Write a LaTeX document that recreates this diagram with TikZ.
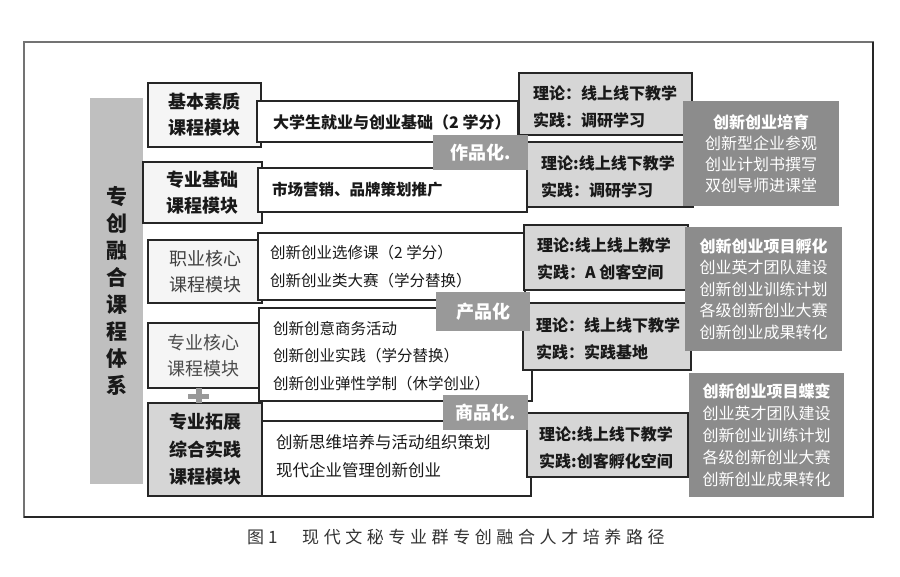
\documentclass[tikz,border=0pt]{standalone}
\usepackage{fontspec}
\setmainfont{Noto Sans CJK SC}
\newfontfamily\capfont[LetterSpace=27]{Noto Sans CJK SC}
\begin{document}
\begin{tikzpicture}[x=1pt,y=-1pt,
  wh/.style 2 args={minimum width=#1pt, minimum height=#2pt},
  box/.style={draw=black!85, line width=1.5pt, inner sep=0pt, rectangle},
  modbox/.style={box, fill=black!4, align=center, font=\fontsize{18}{26}\selectfont\bfseries, text=black!90},
  midbox/.style={box, fill=white},
  thbox/.style={box, fill=black!16},
  darkbox/.style={fill=black!45, inner sep=0pt, align=center, text=white, font=\fontsize{16}{21}\selectfont},
  tagbox/.style={fill=black!40, inner sep=0pt, text=white, font=\fontsize{18}{18}\selectfont\bfseries},
  midtxt/.style={anchor=west, inner sep=0pt, align=left, text=black!90, font=\fontsize{15.5}{27.5}\selectfont},
  thtxt/.style={anchor=west, inner sep=0pt, align=left, text=black!90, font=\fontsize{16}{27}\selectfont\bfseries},
  bartxt/.style={fill=black!25, inner sep=0pt, align=center, text=black!90, font=\fontsize{21}{27}\selectfont\bfseries},
  captxt/.style={anchor=west, inner sep=0pt, text=black!80, font=\capfont\fontsize{17}{17}\selectfont}
]
\useasboundingbox (0,0) rectangle (900,577);
\fill[white] (0,0) rectangle (900,577);
% outer frame
\draw[black!55, line width=1.2pt] (24,42) rectangle (873,517);
\draw[black!85, line width=1.8pt] (24,517) -- (873,517) -- (873,42);

% left bar
\node[bartxt, wh={53}{386}] (bar) at (116.5,291) {专\\创\\融\\合\\课\\程\\体\\系};

% modules
\node[modbox, wh={113}{64}] (m1) at (204.5,115) {基本素质\\课程模块};
\node[modbox, wh={119}{61}] (m2) at (202.5,192.5) {专业基础\\课程模块};
\node[modbox, wh={114}{63}, font=\fontsize{18}{26}\selectfont, text=black!75] (m3) at (205,271.5) {职业核心\\课程模块};
\node[modbox, wh={111}{65}, font=\fontsize{18}{26}\selectfont, text=black!70] (m4) at (203.5,355.5) {专业核心\\课程模块};
\node[modbox, wh={114}{93}, fill=black!16, font=\fontsize{18}{27.5}\selectfont\bfseries] (m5) at (205,449.5) {专业拓展\\综合实践\\课程模块};
% plus between m4 and m5
\fill[black!40] (188,393.5) rectangle (209,398.5);
\fill[black!40] (195.5,388) rectangle (202,403);

% middle boxes
\node[midbox, wh={261}{41}] (c1) at (387.5,121.5) {};
\node[midbox, wh={269}{44}] (c2) at (392.5,190) {};
\node[midbox, wh={267}{67}] (c3) at (391.5,266.5) {};
\node[midbox, wh={273}{93}] (c4) at (395.5,354.5) {};
\node[midbox, wh={269}{75}] (c5) at (396.5,458.5) {};
\node[midtxt, font=\fontsize{16}{27}\selectfont\bfseries] (c1t) at (273,122) {大学生就业与创业基础（2 学分）};
\node[midtxt, font=\fontsize{15.5}{27}\selectfont\bfseries] (c2t) at (272,190) {市场营销、品牌策划推广};
\node[midtxt] (c3t) at (270,266.5) {创新创业选修课（2 学分）\\创新创业类大赛（学分替换）};
\node[midtxt] (c4t) at (273,356) {创新创意商务活动\\创新创业实践（学分替换）\\创新创业弹性学制（休学创业）};
\node[midtxt, font=\fontsize{16.5}{28}\selectfont] (c5t) at (276,456) {创新思维培养与活动组织策划\\现代企业管理创新创业};

% theory/practice boxes
\node[thbox, wh={173}{62}] (r1) at (605.5,104) {};
\node[thbox, wh={166}{65}] (r2) at (610,174.5) {};
\node[thbox, wh={164}{65}] (r3) at (606,257.5) {};
\node[thbox, wh={168}{67}] (r4) at (607,336.5) {};
\node[thbox, wh={161}{64}] (r5) at (607.5,445) {};
\node[thtxt] (r1t) at (533,106.5) {理论：线上线下教学\\实践：调研学习};
\node[thtxt] (r2t) at (541,177) {理论:线上线下教学\\实践：调研学习};
\node[thtxt] (r3t) at (537,258.5) {理论:线上线上教学\\实践：A 创客空间};
\node[thtxt] (r4t) at (536,338.5) {理论：线上线下教学\\实践：实践基地};
\node[thtxt] (r5t) at (539,448) {理论:线上线下教学\\实践:创客孵化空间};

% dark boxes
\node[darkbox, wh={156}{105}] (d1) at (761,153.5) {\textbf{创新创业培育}\\创新型企业参观\\创业计划书撰写\\双创导师进课堂};
\node[darkbox, wh={157}{124}, font=\fontsize{16}{21.5}\selectfont] (d2) at (763.5,289) {\textbf{创新创业项目孵化}\\创业英才团队建设\\创新创业训练计划\\各级创新创业大赛\\创新创业成果转化};
\node[darkbox, wh={155}{124}, font=\fontsize{16}{22}\selectfont] (d3) at (766.5,435) {\textbf{创新创业项目蝶变}\\创业英才团队建设\\创新创业训练计划\\各级创新创业大赛\\创新创业成果转化};

% tags
\node[tagbox, wh={95}{35}] (t1) at (480.5,152.5) {作品化.};
\node[tagbox, wh={94}{39}] (t2) at (483,311.5) {产品化};
\node[tagbox, wh={85}{35}] (t3) at (485.5,412.5) {商品化.};

% caption
\node[captxt] (fig) at (247,537) {图\hspace{4pt}1};
\node[captxt] (cap) at (302,537) {现代文秘专业群专创融合人才培养路径};
\end{tikzpicture}
\end{document}
